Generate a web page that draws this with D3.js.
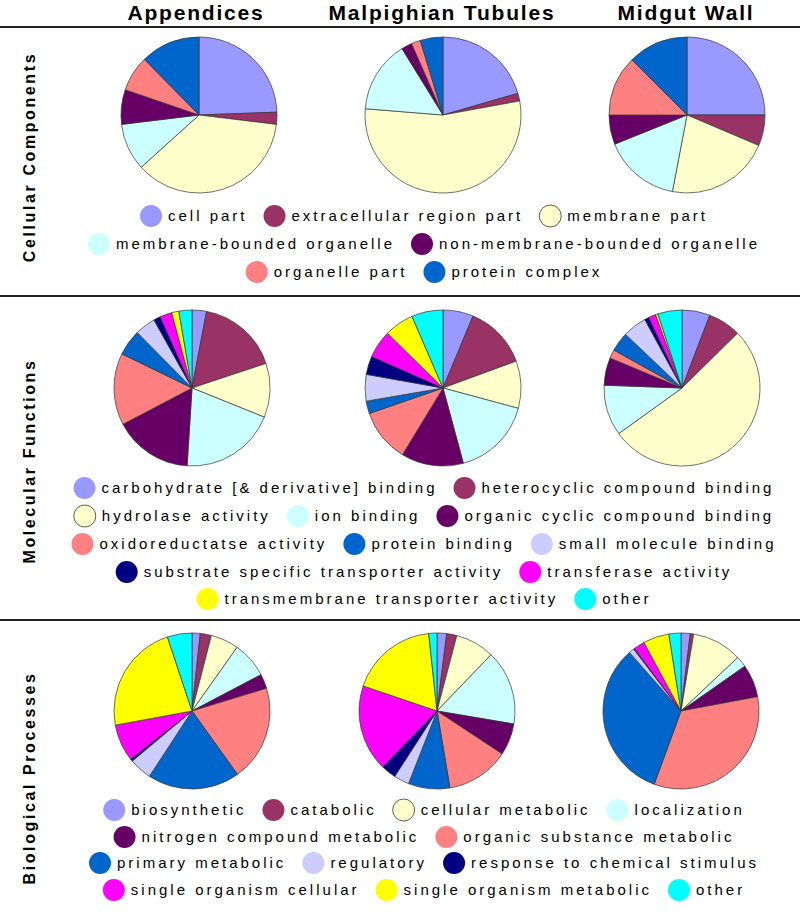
<!DOCTYPE html>
<meta charset="utf-8">
<style>
body { margin: 0; background: #fff; }
text { font-family: Arial, "Liberation Sans", sans-serif; fill: #000; }
.title { font-size: 21px; font-weight: bold; letter-spacing: 1.8px; text-anchor: middle; }
.rowlabel { font-size: 16px; font-weight: bold; letter-spacing: 2.6px; text-anchor: middle; }
.legend text { font-size: 15px; letter-spacing: 3px; }
.slice { stroke: #333; stroke-width: 0.7px; }
.sep { stroke: #222; stroke-width: 2px; }
</style>
<body>
<div id="chart"></div>
<script src="https://d3js.org/d3.v7.min.js"></script>
<script>
var tissues = ["Appendices", "Malpighian Tubules", "Midgut Wall"];
var groups = ["Cellular Components", "Molecular Functions", "Biological Processes"];

var ccCategories = ["cell part", "extracellular region part", "membrane part",
	"membrane-bounded organelle", "non-membrane-bounded organelle",
	"organelle part", "protein complex"];
var ccAppendices = [24.5, 2.5, 36.5, 9.8, 7.2, 7.4, 12.4];
var ccMalpighian = [20.5, 1.6, 54.1, 14.9, 2.2, 1.9, 4.7];
var ccMidgut = [25.0, 6.4, 21.6, 15.9, 6.1, 12.5, 12.5];

var mfCategories = ["carbohydrate [& derivative] binding", "heterocyclic compound binding",
	"hydrolase activity", "ion binding", "organic cyclic compound binding",
	"oxidoreductatse activity", "protein binding", "small molecule binding",
	"substrate specific transporter activity", "transferase activity",
	"transmembrane transporter activity", "other"];
var mfAppendices = [3.0, 16.9, 11.2, 19.9, 16.3, 14.9, 5.4, 4.3, 1.4, 2.5, 1.5, 2.7];
var mfMalpighian = [6.3, 13.1, 9.8, 16.6, 12.9, 11.0, 2.6, 5.5, 3.8, 5.8, 6.1, 6.5];
var mfMidgut = [5.8, 6.8, 52.4, 10.5, 5.7, 1.8, 4.0, 5.0, 0.9, 1.5, 0.5, 5.0];

var bpCategories = ["biosynthetic", "catabolic", "cellular metabolic", "localization",
	"nitrogen compound metabolic", "organic substance metabolic", "primary metabolic",
	"regulatory", "response to chemical stimulus", "single organism cellular",
	"single organism metabolic", "other"];
var bpAppendices = [1.7, 2.3, 5.8, 7.5, 3.0, 19.8, 19.1, 4.7, 0.5, 7.7, 22.8, 5.1];
var bpMalpighian = [2.0, 2.1, 8.1, 15.5, 6.6, 13.1, 8.6, 3.2, 3.1, 18.0, 18.1, 1.7];
var bpMidgut = [1.9, 0.7, 10.4, 2.3, 6.8, 33.6, 33.0, 1.1, 0.2, 2.3, 5.4, 2.5];

// legend items per row
var ccRows = [3, 2, 2];
var mfRows = [2, 3, 3, 2, 2];
var bpRows = [4, 2, 3, 3];

var palette = ["#9999ff", "#993366", "#ffffcc", "#ccffff", "#660066", "#ff8080",
	"#0066cc", "#ccccff", "#000080", "#ff00ff", "#ffff00", "#00ffff"];

var width = 800, height = 912, radius = 78;

var sections = [
	{cats: ccCategories, series: [ccAppendices, ccMalpighian, ccMidgut], rows: ccRows,
		cx: [199, 443, 687], cy: 115, legendY: [216, 244, 272], labelY: 157},
	{cats: mfCategories, series: [mfAppendices, mfMalpighian, mfMidgut], rows: mfRows,
		cx: [192, 443, 682], cy: 388, legendY: [488, 516, 544, 572, 599], labelY: 461},
	{cats: bpCategories, series: [bpAppendices, bpMalpighian, bpMidgut], rows: bpRows,
		cx: [192, 437, 681], cy: 711, legendY: [810, 837, 863, 890], labelY: 778}
];

var svg = d3.select("#chart").append("svg")
	.attr("width", width)
	.attr("height", height);

var titleX = [196, 442, 686];
svg.selectAll(".title")
	.data(tissues)
	.enter().append("text")
	.attr("class", "title")
	.attr("x", function(d, i) { return titleX[i]; })
	.attr("y", 20)
	.text(function(d) { return d; });

[27, 296, 620].forEach(function(y) {
	svg.append("line").attr("class", "sep")
		.attr("x1", 0).attr("x2", width)
		.attr("y1", y).attr("y2", y);
});

var pie = d3.pie().sort(null).value(function(d) { return d; });
var arc = d3.arc().innerRadius(0).outerRadius(radius);

sections.forEach(function(sec, si) {
	var color = d3.scaleOrdinal().domain(sec.cats).range(palette);

	svg.append("text")
		.attr("class", "rowlabel")
		.attr("transform", "translate(35," + sec.labelY + ") rotate(-90)")
		.text(groups[si]);

	sec.series.forEach(function(values, ti) {
		var g = svg.append("g")
			.attr("transform", "translate(" + sec.cx[ti] + "," + sec.cy + ")");
		g.selectAll("path")
			.data(pie(values))
			.enter().append("path")
			.attr("class", "slice")
			.attr("d", arc)
			.style("fill", function(d, i) { return color(sec.cats[i]); });
	});

	// legend
	var idx = 0;
	sec.rows.forEach(function(n, ri) {
		var items = sec.cats.slice(idx, idx + n);
		idx += n;
		var row = svg.append("g").attr("class", "legend");
		var r = 11, textGap = 17, itemGap = 16;
		var parts = items.map(function(name) {
			var it = row.append("g");
			it.append("circle")
				.attr("r", r)
				.style("fill", color(name))
				.style("stroke", name === sec.cats[2] ? "#333" : "none")
				.style("stroke-width", 0.8);
			var t = it.append("text")
				.attr("x", textGap)
				.attr("dy", "0.35em")
				.text(name);
			return {g: it, w: t.node().getComputedTextLength()};
		});
		var total = 0;
		parts.forEach(function(p, k) {
			total += r + textGap + p.w + (k < parts.length - 1 ? itemGap : 0);
		});
		var x = 424 - total / 2;
		parts.forEach(function(p) {
			p.g.attr("transform", "translate(" + (x + r) + "," + sec.legendY[ri] + ")");
			x += r + textGap + p.w + itemGap;
		});
	});
});
</script>
</body>
